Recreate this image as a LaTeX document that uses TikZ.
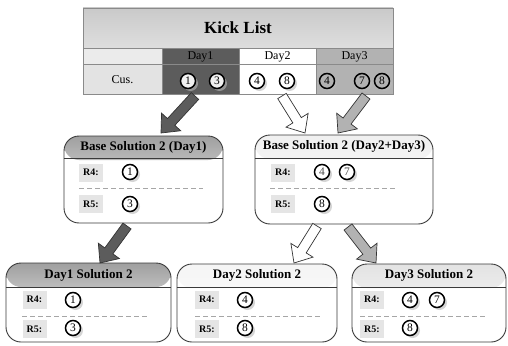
\documentclass[tikz,border=0pt]{standalone}
\usepackage{fontspec}
\setmainfont{Liberation Serif}
\usetikzlibrary{calc,shadows}
\definecolor{dk}{HTML}{5C5C5C}
\definecolor{lt}{HTML}{B2B2B2}
\definecolor{edgec}{HTML}{3A3A3A}
\definecolor{gridc}{HTML}{8A8A8A}
\tikzset{
  num/.style={circle, draw=black, line width=1.5pt, minimum size=15pt, inner sep=0pt,
    font=\fontsize{11.5}{11.5}\selectfont, fill=#1,
    drop shadow={shadow xshift=2.5pt, shadow yshift=-2.5pt, fill=gray!55, opacity=0.6}},
  num/.default=white,
  solbox/.style={rounded corners=15pt, draw=edgec, line width=0.9pt, fill=white, inner sep=0pt,
    path picture={\shade[top color=#1, bottom color=white] (path picture bounding box.north west) rectangle ([yshift=-24pt]path picture bounding box.north east);}},
  soltitle/.style={font=\bfseries\fontsize{13}{13}\selectfont},
  lab/.style={fill=gray!20, minimum width=24pt, minimum height=18pt, inner sep=0pt,
    font=\bfseries\fontsize{10}{10}\selectfont},
  sep/.style={draw=gray!70, line width=0.8pt, dash pattern=on 5pt off 3pt},
  cellline/.style={draw=gridc, line width=0.6pt},
  celltext/.style={font=\fontsize{12}{12}\selectfont},
  blk/.style={draw=black!80, line width=0.7pt, line join=miter},
}
\newcommand\blockarrow[3]{%
  \coordinate (hb) at ($(#3)!15pt!(#2)$);
  \draw[blk,#1] ($(#2)!5pt!90:(#3)$) -- ($(hb)!5pt!90:(#3)$) -- ($(hb)!13pt!90:(#3)$) -- (#3)
    -- ($(hb)!13pt!-90:(#3)$) -- ($(hb)!5pt!-90:(#3)$) -- ($(#2)!5pt!-90:(#3)$) -- cycle;}
\begin{document}
\begin{tikzpicture}[x=1pt,y=-1pt]
\useasboundingbox (0,0) rectangle (508,345);
% ---------- Kick list table ----------
\shade[top color=gray!42, bottom color=gray!26] (83,8) rectangle (393,48);
\fill[gray!16] (83,48) rectangle (162,64);
\fill[gray!22] (83,64) rectangle (162,94);
\fill[dk] (162,48) rectangle (239,94);
\fill[white] (239,48) rectangle (316,94);
\fill[lt] (316,48) rectangle (393,94);
\draw[cellline] (83,8) rectangle (393,94);
\draw[cellline] (83,48) -- (393,48);
\draw[cellline] (83,64) -- (393,64);
\draw[cellline] (162,48) -- (162,94);
\draw[cellline] (239,48) -- (239,94);
\draw[cellline] (316,48) -- (316,94);
\node[font=\bfseries\fontsize{17}{17}\selectfont] (kl) at (238,28) {Kick List};
\node[celltext] (d1) at (200.5,56.5) {Day1};
\node[celltext] (d2) at (277.5,56.5) {Day2};
\node[celltext] (d3) at (354.5,56.5) {Day3};
\node[celltext] (cus) at (122.5,79.5) {Cus.};
\node[num=gray!12] (k1) at (188,81) {1};
\node[num=gray!12] (k3) at (217,81) {3};
\node[num] (k4a) at (257,81) {4};
\node[num] (k8a) at (287,81) {8};
\node[num=lt] (k4b) at (327,81) {4};
\node[num=lt] (k7b) at (362,81) {7};
\node[num=lt] (k8b) at (382,81) {8};
% ---------- Base solutions ----------
\node[solbox=gray!75, minimum width=159pt, minimum height=87pt] (b1) at (143.5,179.5) {};
\draw[edgec, line width=0.9pt] ([yshift=-23pt]b1.north west) -- ([yshift=-23pt]b1.north east);
\node[soltitle] (b1t) at ([yshift=-12pt]b1.north) {Base Solution 2 (Day1)};
\node[lab] (b1r4) at (91,172.5) {R4:};
\node[lab] (b1r5) at (91,204) {R5:};
\draw[sep] (79,188) -- (203,188);
\node[num] (b1c1) at (130,172) {1};
\node[num] (b1c3) at (130,204) {3};

\node[solbox=gray!12, minimum width=178pt, minimum height=89pt] (b2) at (344,179.5) {};
\draw[edgec, line width=0.9pt] ([yshift=-24pt]b2.north west) -- ([yshift=-24pt]b2.north east);
\node[soltitle] (b2t) at ([yshift=-12pt]b2.north) {Base Solution 2 (Day2+Day3)};
\node[lab] (b2r4) at (283,172.5) {R4:};
\node[lab] (b2r5) at (283,204) {R5:};
\draw[sep] (270,188) -- (395,188);
\node[num, text=gray!60!black] (b2c4) at (322,172) {4};
\node[num, text=gray!60!black] (b2c7) at (347,172) {7};
\node[num] (b2c8) at (322,204) {8};
% ---------- Day solutions ----------
\node[solbox=gray!75, minimum width=165pt, minimum height=79pt] (s1) at (88.5,302.5) {};
\draw[edgec, line width=0.9pt] ([yshift=-25pt]s1.north west) -- ([yshift=-25pt]s1.north east);
\node[soltitle] (s1t) at ([yshift=-12.5pt]s1.north) {Day1 Solution 2};
\node[lab] (s1r4) at (34.5,299.5) {R4:};
\node[lab] (s1r5) at (34.5,329) {R5:};
\draw[sep] (22,316) -- (148,316);
\node[num] (s1c1) at (73,300) {1};
\node[num] (s1c3) at (73,328) {3};

\node[solbox=gray!8, minimum width=160pt, minimum height=78pt] (s2) at (257,303) {};
\draw[edgec, line width=0.9pt] ([yshift=-24pt]s2.north west) -- ([yshift=-24pt]s2.north east);
\node[soltitle] (s2t) at ([yshift=-12pt]s2.north) {Day2 Solution 2};
\node[lab] (s2r4) at (207,299.5) {R4:};
\node[lab] (s2r5) at (207,329) {R5:};
\draw[sep] (195,316) -- (320,316);
\node[num] (s2c4) at (245,300) {4};
\node[num] (s2c8) at (245,328) {8};

\node[solbox=gray!22, minimum width=154pt, minimum height=78pt] (s3) at (429,303) {};
\draw[edgec, line width=0.9pt] ([yshift=-24pt]s3.north west) -- ([yshift=-24pt]s3.north east);
\node[soltitle] (s3t) at ([yshift=-12pt]s3.north) {Day3 Solution 2};
\node[lab] (s3r4) at (372,299.5) {R4:};
\node[lab] (s3r5) at (372,329) {R5:};
\draw[sep] (360,316) -- (485,316);
\node[num] (s3c4) at (410,300) {4};
\node[num] (s3c7) at (437,300) {7};
\node[num] (s3c8) at (410,328) {8};
% ---------- Block arrows ----------
\coordinate (a1s) at (195,96);  \coordinate (a1e) at (161,133);
\coordinate (a2s) at (282,96);  \coordinate (a2e) at (305,133);
\coordinate (a3s) at (366,96);  \coordinate (a3e) at (338,133);
\coordinate (a4s) at (127,226); \coordinate (a4e) at (100,263);
\coordinate (a5s) at (317,226); \coordinate (a5e) at (294,263);
\coordinate (a6s) at (348,227); \coordinate (a6e) at (376,263);
\blockarrow{fill=dk}{a1s}{a1e}
\blockarrow{fill=white}{a2s}{a2e}
\blockarrow{fill=lt}{a3s}{a3e}
\blockarrow{fill=dk}{a4s}{a4e}
\blockarrow{fill=white}{a5s}{a5e}
\blockarrow{fill=lt}{a6s}{a6e}
\end{tikzpicture}
\end{document}
